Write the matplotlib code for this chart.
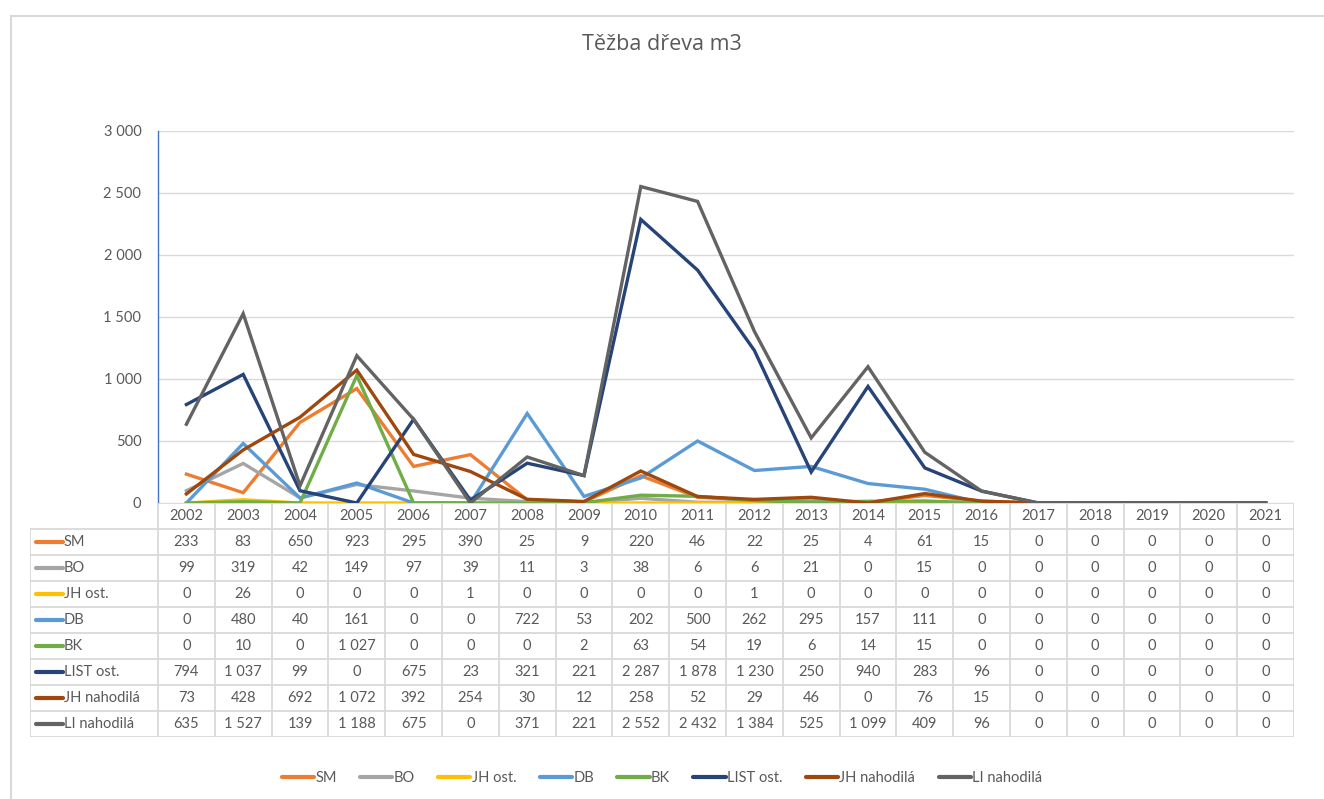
import matplotlib
matplotlib.use("Agg")
import matplotlib.pyplot as plt
from matplotlib.lines import Line2D

years = list(range(2002, 2022))
series_names = ["SM", "BO", "JH ost.", "DB", "BK", "LIST ost.", "JH nahodilá", "LI nahodilá"]
sm = [233, 83, 650, 923, 295, 390, 25, 9, 220, 46, 22, 25, 4, 61, 15, 0, 0, 0, 0, 0]
bo = [99, 319, 42, 149, 97, 39, 11, 3, 38, 6, 6, 21, 0, 15, 0, 0, 0, 0, 0, 0]
jh_ost = [0, 26, 0, 0, 0, 1, 0, 0, 0, 0, 1, 0, 0, 0, 0, 0, 0, 0, 0, 0]
db = [0, 480, 40, 161, 0, 0, 722, 53, 202, 500, 262, 295, 157, 111, 0, 0, 0, 0, 0, 0]
bk = [0, 10, 0, 1027, 0, 0, 0, 2, 63, 54, 19, 6, 14, 15, 0, 0, 0, 0, 0, 0]
list_ost = [794, 1037, 99, 0, 675, 23, 321, 221, 2287, 1878, 1230, 250, 940, 283, 96, 0, 0, 0, 0, 0]
jh_nah = [73, 428, 692, 1072, 392, 254, 30, 12, 258, 52, 29, 46, 0, 76, 15, 0, 0, 0, 0, 0]
li_nah = [635, 1527, 139, 1188, 675, 0, 371, 221, 2552, 2432, 1384, 525, 1099, 409, 96, 0, 0, 0, 0, 0]
yticks = [0, 500, 1000, 1500, 2000, 2500, 3000]

series = [sm, bo, jh_ost, db, bk, list_ost, jh_nah, li_nah]
colors = ["#ED7D31", "#A5A5A5", "#FFC000", "#5B9BD5", "#70AD47", "#264478", "#9E480E", "#636363"]

txt = "#595959"
grid = "#D9D9D9"
plt.rcParams["font.family"] = ["Lato", "DejaVu Sans"]

W, H = 1324, 799
fig = plt.figure(figsize=(W / 100, H / 100), dpi=100)


def box(x0, y0, x1, y1):
    # pixel box (top-left origin) -> figure fraction rect
    return [x0 / W, 1 - y1 / H, (x1 - x0) / W, (y1 - y0) / H]


def fmt(v):
    return f"{v:,}".replace(",", " ")


# outer chart border
fig.add_artist(Line2D([11 / W, 1], [1 - 16 / H, 1 - 16 / H], color=grid, lw=1.5))
fig.add_artist(Line2D([11 / W, 11 / W], [0, 1 - 16 / H], color=grid, lw=1.5))

ax = fig.add_axes(box(158, 131, 1294, 503))
x = list(range(len(years)))
for vals, c in zip(series, colors):
    ax.plot(x, vals, color=c, lw=2.4, solid_joinstyle="miter")
ax.set_xlim(-0.5, len(years) - 0.5)
ax.set_ylim(0, 3000)
ax.set_yticks(yticks)
ax.set_yticklabels([fmt(v) for v in yticks], color=txt, fontsize=10.5)
ax.set_xticks([])
ax.tick_params(axis="y", length=0, pad=12)
ax.grid(axis="y", color=grid, lw=1)
ax.set_axisbelow(True)
for s in ["top", "right", "bottom"]:
    ax.spines[s].set_visible(False)
ax.spines["left"].set_color("#4472C4")
ax.spines["left"].set_linewidth(1)

fig.text(0.5, 1 - 45 / H, "Těžba dřeva m3", ha="center", va="center",
         fontsize=15.5, color=txt, family=["Open Sans", "DejaVu Sans"])

# data table below the plot
tab = fig.add_axes(box(30, 503, 1294, 737))
unit = (1294 - 158) / len(years)
left = -0.5 - (158 - 30) / unit
tab.set_xlim(left, len(years) - 0.5)
tab.set_ylim(9, 0)
tab.axis("off")
nrow = len(series) + 1
tab.plot([-0.5, len(years) - 0.5], [0, 0], color=grid, lw=1.3)
for r in range(1, nrow + 1):
    tab.plot([left, len(years) - 0.5], [r, r], color=grid, lw=1.3)
tab.plot([left, left], [1, nrow], color=grid, lw=1.3)
for i in range(len(years) + 1):
    tab.plot([i - 0.5, i - 0.5], [0, nrow], color=grid, lw=1.3)
for i, yr in enumerate(years):
    tab.text(i, 0.5, str(yr), ha="center", va="center", fontsize=10.5, color=txt)
for r, (name, vals, c) in enumerate(zip(series_names, series, colors), start=1):
    keyx0 = left + 6 / unit
    keyx1 = left + 33 / unit
    tab.plot([keyx0, keyx1], [r + 0.5, r + 0.5], color=c, lw=3, solid_capstyle="round")
    tab.text(keyx1 + 1 / unit, r + 0.5, name, ha="left", va="center", fontsize=10.5, color=txt)
    for i, v in enumerate(vals):
        tab.text(i, r + 0.5, fmt(v), ha="center", va="center", fontsize=10.5, color=txt)

handles = [Line2D([], [], color=c, lw=3, solid_capstyle="round") for c in colors]
fig.legend(handles, series_names, loc="center", bbox_to_anchor=(0.5, 1 - 778 / H), ncol=8,
           frameon=False, fontsize=10.5, labelcolor=txt, handlelength=2.2,
           handletextpad=0.1, columnspacing=1.6)

fig.savefig("out.png", dpi=100)
